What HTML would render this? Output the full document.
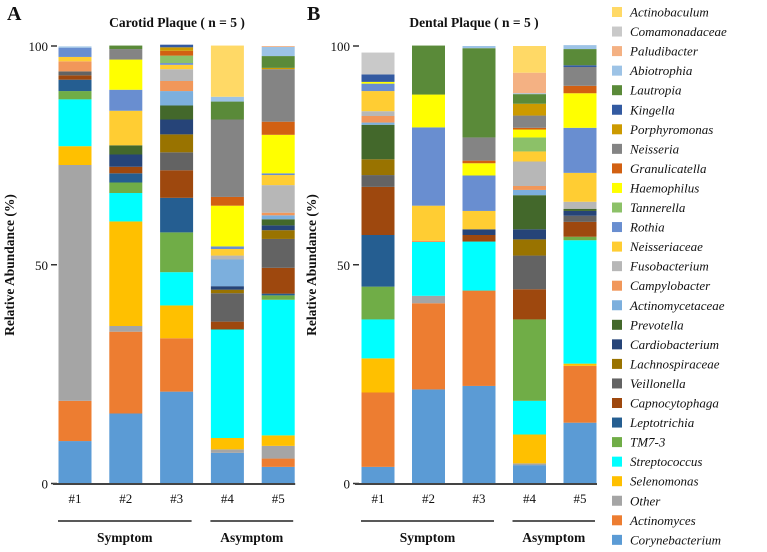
<!DOCTYPE html>
<html><head><meta charset="utf-8"><style>
html,body{margin:0;padding:0;background:#fff;}
svg{display:block;}
text{font-family:"Liberation Serif",serif;fill:#111;}
</style></head><body>
<svg id="chart" width="767" height="552" viewBox="0 0 767 552" xmlns="http://www.w3.org/2000/svg"></svg>
<script>
const categories = ["Corynebacterium","Actinomyces","Other","Selenomonas","Streptococcus","TM7-3","Leptotrichia","Capnocytophaga","Veillonella","Lachnospiraceae","Cardiobacterium","Prevotella","Actinomycetaceae","Campylobacter","Fusobacterium","Neisseriaceae","Rothia","Tannerella","Haemophilus","Granulicatella","Neisseria","Porphyromonas","Kingella","Lautropia","Abiotrophia","Paludibacter","Comamonadaceae","Actinobaculum"];
const colors = ["#5b9bd5","#ed7d31","#a5a5a5","#ffc000","#00ffff","#70ad47","#255e91","#9e480e","#636363","#997300","#264478","#43682b","#7cafdd","#f1975a","#b7b7b7","#ffcd33","#698ed0","#8cc168","#ffff00","#d26012","#848484","#cc9a00","#335aa1","#5a8a39","#9dc3e6","#f4b183","#c9c9c9","#ffd966"];
const sampleLabels = ["#1","#2","#3","#4","#5"];
const yTicks = [0,50,100];
const carotid1 = [9.7,9.2,53.9,4.3,10.7,1.9,2.6,1.0,0.9,0,0,0,0,2.3,0,1.0,2.1,0,0,0,0,0,0,0,0.3,0,0,0];
const carotid2 = [16.0,18.7,1.3,23.9,6.5,2.4,2.1,1.5,0,0,2.8,2.1,0,0,0,7.9,4.8,0,6.9,0,2.4,0,0,0.8,0,0,0,0];
const carotid3 = [21.0,12.2,0,7.5,7.6,9.1,7.9,6.3,4.1,4.1,3.4,3.2,3.3,2.3,2.7,1.0,0.4,1.7,0,1.1,0,0.8,0.6,0,0,0,0,0];
const carotid4 = [7.0,0,0.8,2.6,24.8,0,0,1.8,6.5,0.8,0.8,0,6.1,0,0.9,1.5,0.6,0,9.3,2.0,17.7,0,0,4.1,1.1,0,0,11.7];
const carotid5 = [3.8,1.9,2.9,2.4,31.0,1.0,0.4,5.9,6.6,2.0,1.1,1.4,0.9,0.6,6.3,2.3,0.4,0,8.8,3.0,12.0,0.3,0,2.7,2.1,0.2,0,0];
const dental1 = [3.8,17.0,0,7.8,8.9,7.5,11.8,11.0,2.7,3.6,0,7.9,0.5,1.5,1.1,4.6,1.7,0,0.4,0,0,0,1.7,0,0,0,5.0,0];
const dental2 = [21.5,19.7,1.7,0,12.3,0,0,0,0,0,0,0,0,0.3,0,8.0,17.9,0,7.5,0,0,0,0,11.2,0,0,0,0];
const dental3 = [22.3,21.8,0,0,11.2,0,0,1.5,0,0,1.3,0,0,0,0,4.2,8.1,0,2.8,0.6,5.3,0,0,20.4,0.5,0,0,0];
const dental4 = [4.2,0,0.4,6.6,7.7,18.6,0,6.9,7.7,3.7,2.3,7.8,1.2,0.9,5.6,2.3,0,3.2,1.8,0.4,2.8,2.7,0,2.2,0.2,4.7,0,6.1];
const dental5 = [13.9,13.0,0,0.5,28.2,0.8,0,3.4,1.4,0,1.1,0.5,0,0,1.6,6.6,10.3,0,7.9,1.7,4.3,0,0.4,3.7,0.9,0,0,0];

const NS = "http://www.w3.org/2000/svg";
const svg = document.getElementById("chart");
function mk(tag, attrs, parent){
  const e = document.createElementNS(NS, tag);
  for (const k in attrs) e.setAttribute(k, attrs[k]);
  (parent||svg).appendChild(e);
  return e;
}
const Y0 = 483.5, Y100 = 46;
function yScale(v){ return Y0 - (v/100)*(Y0-Y100); }

function panel(cfg){
  const g = mk("g", {});
  
  
  const L = mk("text", {x:cfg.letterX, y:20, "font-size":20, "font-weight":"bold"}, g);
  L.textContent = cfg.letter;
  
  
  const T = mk("text", {x:cfg.titleX, y:27, "font-size":13.5, "font-weight":"bold", "text-anchor":"middle"}, g);
  T.textContent = cfg.title;
  
  
  const yt = mk("text", {x:0, y:0, "font-size":13.5, "font-weight":"bold", "text-anchor":"middle", transform:`translate(${cfg.axisX-41},265) rotate(-90)`}, g);
  yt.textContent = "Relative Abundance (%)";
  
  
  yTicks.forEach(t => {
    const tl = mk("line", {x1:cfg.axisX-4, x2:cfg.axisX+2, y1:yScale(t), y2:yScale(t), stroke:"#333", "stroke-width":1.5}, g);
    
    
    const tx = mk("text", {x:cfg.axisX-7, y:yScale(t)+5, "font-size":13, "text-anchor":"end"}, g);
    tx.textContent = t;
    
    
  });
  cfg.samples.forEach((vals, i) => {
    const cx = cfg.firstX + i*cfg.step;
    let acc = 0;
    vals.forEach((v, k) => {
      if (v <= 0) return;
      const yTop = yScale(acc+v), yBot = yScale(acc);
      const r = mk("rect", {x:cx-16.5, y:yTop, width:33, height:yBot-yTop, fill:colors[k]}, g);
      
      
      acc += v;
    });
    const lbl = mk("text", {x:cx, y:503, "font-size":13, "text-anchor":"middle"}, g);
    lbl.textContent = sampleLabels[i];
    
    
  });
  const ax = mk("line", {x1:cfg.axisX-2, x2:cfg.firstX+4*cfg.step+17, y1:Y0+0.5, y2:Y0+0.5, stroke:"#444", "stroke-width":2}, g);
  
  
  const groups = [{t:"Symptom", a:0, b:2}, {t:"Asymptom", a:3, b:4}];
  groups.forEach(gr => {
    const xa = cfg.firstX + gr.a*cfg.step - 17, xb = cfg.firstX + gr.b*cfg.step + 15;
    const ln = mk("line", {x1:xa, x2:xb, y1:521, y2:521, stroke:"#222", "stroke-width":1.5}, g);
    
    
    const gt = mk("text", {x:(xa+xb)/2, y:542, "font-size":13.5, "font-weight":"bold", "text-anchor":"middle"}, g);
    gt.textContent = gr.t;
    
    
  });
}
panel({name:"carotid-panel", letter:"A", letterX:7, title:"Carotid Plaque ( n = 5 )", titleX:177, axisX:55, firstX:75, step:50.8, samples:[carotid1,carotid2,carotid3,carotid4,carotid5]});
panel({name:"dental-panel", letter:"B", letterX:307, title:"Dental Plaque ( n = 5 )", titleX:474, axisX:357, firstX:378, step:50.5, samples:[dental1,dental2,dental3,dental4,dental5]});

const lg = mk("g", {});


for (let k = categories.length-1; k >= 0; k--) {
  const row = categories.length-1-k;
  const y = 12 + row*19.55;
  const e = mk("g", {}, lg);
  
  
  mk("rect", {x:612, y:y-5, width:10, height:10, fill:colors[k]}, e);
  const t = mk("text", {x:630, y:y+4.5, "font-size":13, "font-style":"italic"}, e);
  t.textContent = categories[k];
}
</script>
</body></html>
